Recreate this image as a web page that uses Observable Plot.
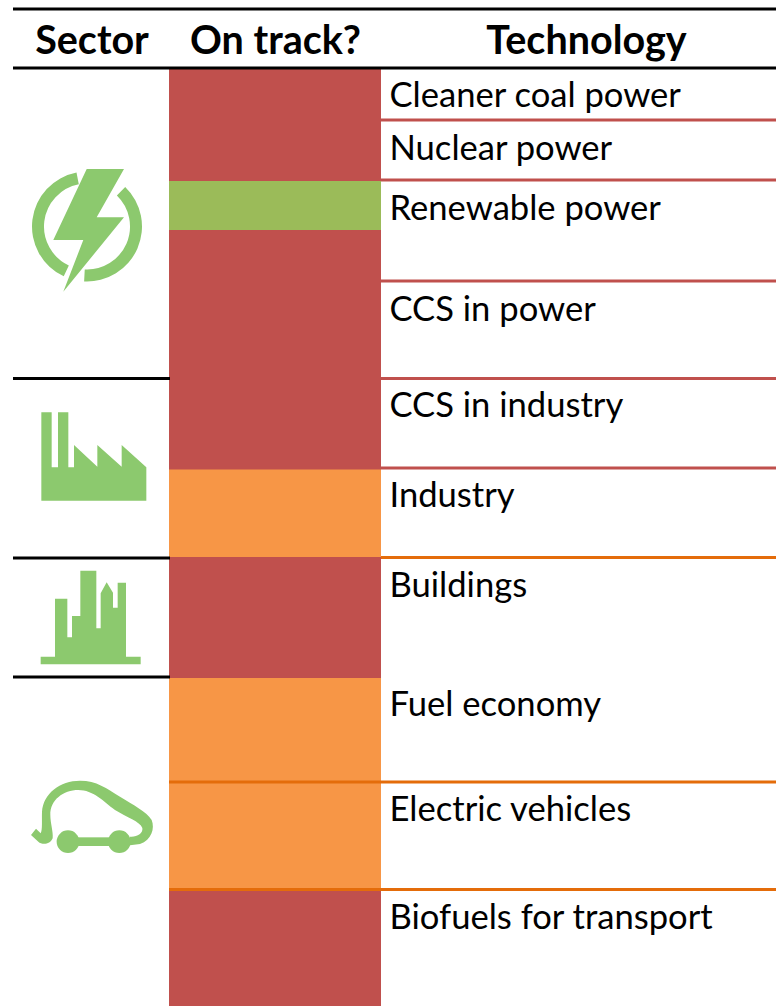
<!DOCTYPE html>
<html><head><meta charset="utf-8">
<script src="https://cdn.jsdelivr.net/npm/d3@7"></script>
<script src="https://cdn.jsdelivr.net/npm/@observablehq/plot@0.6"></script>
<style>html,body{margin:0;padding:0;background:#fff}svg{display:block}</style>
</head><body><div id="chart"></div>
<script>
const headers = ["Sector", "On track?", "Technology"];
const headerCenters = [91.5, 275, 586];
const technologies = ["Cleaner coal power","Nuclear power","Renewable power","CCS in power","CCS in industry","Industry","Buildings","Fuel economy","Electric vehicles","Biofuels for transport"];
const techBaselines = [106,159,219,320,416,506,596,715,820,928];
const bandTops =    [69,181,230,468,557,678,889];
const bandBottoms = [181,230,468,557,678,889,1006];
const bandStatus =  ["off","on","off","partial","off","partial","off"];
const ruleYs =   [119.5,179.5,280.5,378,467.5,557,781.5,889];
const ruleStart =[381,381,381,381,169,381,169,169];
const ruleStat = ["off","off","off","off","off","partial","partial","partial"];
const sectorRuleYs = [378,557.5,676.5];
const statusColor = {off:"#C0504D", on:"#9BBB59", partial:"#F79646"};
const ruleColor = {off:"#C0504D", partial:"#E46C0A"};
const iconGreen = "#8CC96E";

const z = (p, ox, oy) => p.map(([a,b]) => [a/3+ox, b/3+oy]);
const bolt = [[86.7,169],[124,169],[96.7,217.3],[124,217.3],[63.3,291.7],[83.3,240],[53.3,240]];
const factory = z([[124,127],[155,127],[155,292],[174,292],[174,127],[205,127],[205,292],[222,292],[222,225],[292,290],[292,225],[365,290],[365,225],[439,292],[439,392],[124,392]],0,370);
const city = z([[122,860],[165,860],[165,686],[202,686],[202,802],[216,802],[216,738],[241,738],[241,602],[289,602],[289,775],[302,775],[302,670],[320,637],[339,668],[339,713],[353,713],[353,638],[378,638],[378,860],[422,860],[422,883],[122,883]],0,370);
const carBody = "M93 285L108 266L122 280C128 270 125 240 126 215C130 160 180 122 240 122C290 122 320 145 360 170C400 195 440 215 455 240C465 265 455 300 420 312L390 316L390 290C410 292 430 280 427 264C420 244 380 232 345 210C310 184 280 150 235 150C190 150 150 180 151 225C151 250 160 275 158 295C150 315 125 315 115 305Z";
const wheels = [[204,305],[358,305]];
const ring = {cx:87, cy:226.5, inner:43, outer:55};
const ringArcs = [[-155,-11],[44,183]];

function icons(index, {x, y}) {
  const g = d3.create("svg:g").attr("fill", iconGreen);
  const poly = p => "M" + p.map(([a,b]) => `${x(a)},${y(b)}`).join("L") + "Z";
  [bolt, factory, city].forEach(p => g.append("path").attr("d", poly(p)));
  const arc = d3.arc().innerRadius(ring.inner).outerRadius(ring.outer);
  ringArcs.forEach(([s,e]) => g.append("path")
    .attr("transform",`translate(${x(ring.cx)},${y(ring.cy)})`)
    .attr("d",arc({startAngle:s*Math.PI/180,endAngle:e*Math.PI/180})));
  const car = g.append("g").attr("transform",`translate(${x(0)},${y(740)}) scale(${1/3})`);
  car.append("path").attr("d",carBody);
  wheels.forEach(([a,b]) => car.append("circle").attr("cx",a).attr("cy",b).attr("r",34));
  car.append("rect").attr("x",230).attr("y",292).attr("width",100).attr("height",26);
  return g.node();
}

const fontFamily = "Lato, Carlito, Calibri, sans-serif";
const plot = Plot.plot({
  width: 776, height: 1006, margin: 0,
  x: {axis: null, domain: [0,776], range: [0,776]},
  y: {axis: null, domain: [0,1006], range: [0,1006]},
  style: {background: "#fff", fontFamily},
  marks: [
    Plot.rect(bandStatus, {x1: () => 169, x2: () => 381, y1: (d,i) => bandTops[i], y2: (d,i) => bandBottoms[i], fill: d => statusColor[d]}),
    Plot.ruleY(ruleYs, {x1: (d,i) => ruleStart[i], x2: 776, y: d => d, stroke: (d,i) => ruleColor[ruleStat[i]], strokeWidth: 3}),
    Plot.ruleY(sectorRuleYs, {x1: 13, x2: 170, stroke: "#000", strokeWidth: 3}),
    Plot.ruleY([8.5, 67.5], {x1: 13, x2: 776, stroke: "#000", strokeWidth: 3}),
    Plot.text(headers, {x: (d,i) => headerCenters[i], y: () => 53, text: d => d, lineAnchor: "bottom", fontSize: 39.5, fontWeight: 700, fill: "#000"}),
    Plot.text(technologies, {x: () => 389, y: (d,i) => techBaselines[i], text: d => d, lineAnchor: "bottom", textAnchor: "start", fontSize: 34.6, fill: "#000"}),
    icons
  ]
});
document.getElementById("chart").append(plot);
</script></body></html>
